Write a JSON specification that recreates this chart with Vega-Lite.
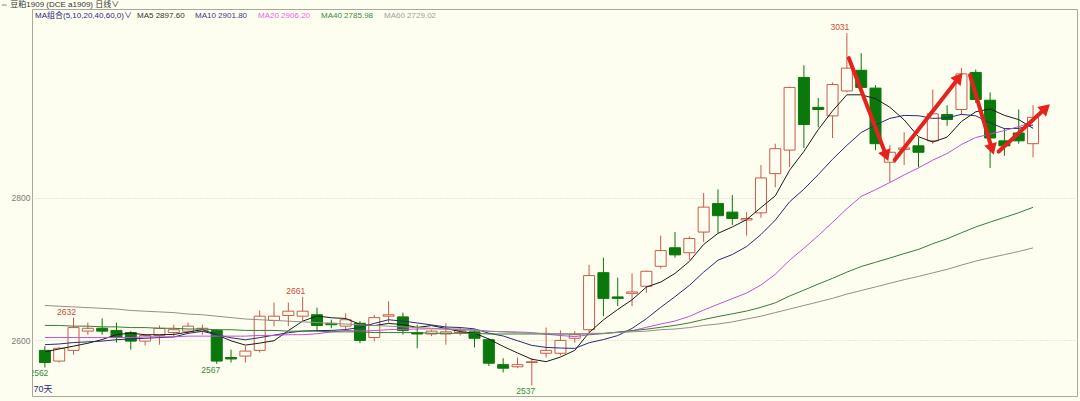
{
  "$schema": "https://vega.github.io/schema/vega-lite/v6.json",
  "width": 1045,
  "height": 387,
  "autosize": {"type": "none"},
  "padding": {"left": 32, "top": 9, "right": 3, "bottom": 5},
  "background": "#fefef0",
  "config": {
    "view": {"stroke": "#a8a8a0", "strokeWidth": 1, "fill": "#fefef0"},
    "font": "Liberation Sans"
  },
  "title": {
    "text": "⇔ 豆粕1909 (DCE a1909)    日线∨",
    "anchor": "start",
    "dx": -11,
    "dy": 4,
    "offset": 0,
    "fontSize": 8,
    "font": "Liberation Sans, Noto Sans CJK SC",
    "fontWeight": "normal",
    "color": "#333333",
    "baseline": "middle"
  },
  "datasets": {
    "candles": [
      {"i":0,"o":2586,"h":2592,"l":2562,"c":2569,"MA5":2584,"MA10":2594,"MA20":2604,"MA40":2621,"MA60":2649},
      {"i":1,"o":2571,"h":2591,"l":2569,"c":2589,"MA5":2588,"MA10":2595,"MA20":2604,"MA40":2621,"MA60":2648},
      {"i":2,"o":2586,"h":2632,"l":2580,"c":2618,"MA5":2592,"MA10":2597,"MA20":2604,"MA40":2620,"MA60":2647},
      {"i":3,"o":2613,"h":2625,"l":2608,"c":2617,"MA5":2596,"MA10":2598,"MA20":2604,"MA40":2620,"MA60":2646},
      {"i":4,"o":2617,"h":2631,"l":2608,"c":2613,"MA5":2601.2,"MA10":2599,"MA20":2604,"MA40":2619,"MA60":2645},
      {"i":5,"o":2614,"h":2625,"l":2597,"c":2604,"MA5":2608.2,"MA10":2601,"MA20":2604,"MA40":2619,"MA60":2644},
      {"i":6,"o":2611,"h":2613,"l":2587,"c":2599,"MA5":2610.2,"MA10":2602,"MA20":2604,"MA40":2618,"MA60":2642},
      {"i":7,"o":2599,"h":2609,"l":2593,"c":2607,"MA5":2608,"MA10":2603,"MA20":2605,"MA40":2618,"MA60":2641},
      {"i":8,"o":2607,"h":2621,"l":2594,"c":2617,"MA5":2608,"MA10":2604,"MA20":2605,"MA40":2617,"MA60":2640},
      {"i":9,"o":2611,"h":2622,"l":2606,"c":2615,"MA5":2608.4,"MA10":2604.8,"MA20":2605,"MA40":2617,"MA60":2639},
      {"i":10,"o":2613,"h":2625,"l":2610,"c":2620,"MA5":2611.6,"MA10":2609.9,"MA20":2606,"MA40":2616,"MA60":2637},
      {"i":11,"o":2613,"h":2622,"l":2608,"c":2617,"MA5":2615.2,"MA10":2612.7,"MA20":2606,"MA40":2616,"MA60":2636},
      {"i":12,"o":2614,"h":2616,"l":2567,"c":2571,"MA5":2608,"MA10":2608,"MA20":2606,"MA40":2615,"MA60":2634},
      {"i":13,"o":2576,"h":2587,"l":2569,"c":2574,"MA5":2599.4,"MA10":2603.7,"MA20":2606,"MA40":2615,"MA60":2632},
      {"i":14,"o":2578,"h":2592,"l":2569,"c":2585,"MA5":2593.4,"MA10":2600.9,"MA20":2606,"MA40":2614,"MA60":2630},
      {"i":15,"o":2586,"h":2642,"l":2583,"c":2634,"MA5":2596.2,"MA10":2603.9,"MA20":2607,"MA40":2614,"MA60":2629},
      {"i":16,"o":2628,"h":2653,"l":2620,"c":2634,"MA5":2599.6,"MA10":2607.4,"MA20":2607,"MA40":2614,"MA60":2628},
      {"i":17,"o":2635,"h":2653,"l":2620,"c":2641,"MA5":2613.6,"MA10":2610.8,"MA20":2608,"MA40":2613,"MA60":2627},
      {"i":18,"o":2634,"h":2661,"l":2627,"c":2641,"MA5":2627,"MA10":2613.2,"MA20":2608,"MA40":2613,"MA60":2626},
      {"i":19,"o":2636,"h":2646,"l":2613,"c":2621,"MA5":2634.2,"MA10":2613.8,"MA20":2609.3,"MA40":2613,"MA60":2625},
      {"i":20,"o":2624,"h":2629,"l":2617,"c":2622,"MA5":2631.8,"MA10":2614,"MA20":2612,"MA40":2612,"MA60":2624},
      {"i":21,"o":2620,"h":2638,"l":2613,"c":2629,"MA5":2630.8,"MA10":2615.2,"MA20":2614,"MA40":2612,"MA60":2623},
      {"i":22,"o":2624,"h":2627,"l":2596,"c":2600,"MA5":2622.6,"MA10":2618.1,"MA20":2613.1,"MA40":2612,"MA60":2622},
      {"i":23,"o":2604,"h":2636,"l":2599,"c":2632,"MA5":2620.8,"MA10":2623.9,"MA20":2613.8,"MA40":2611,"MA60":2621},
      {"i":24,"o":2634,"h":2655,"l":2625,"c":2636,"MA5":2623.8,"MA10":2629,"MA20":2615,"MA40":2611,"MA60":2620},
      {"i":25,"o":2633,"h":2639,"l":2608,"c":2614,"MA5":2622.2,"MA10":2627,"MA20":2615.5,"MA40":2611,"MA60":2619},
      {"i":26,"o":2611,"h":2622,"l":2589,"c":2609,"MA5":2618.2,"MA10":2624.5,"MA20":2616,"MA40":2611,"MA60":2618},
      {"i":27,"o":2609,"h":2615,"l":2606,"c":2613,"MA5":2620.8,"MA10":2621.7,"MA20":2616.3,"MA40":2610,"MA60":2617},
      {"i":28,"o":2609,"h":2624,"l":2594,"c":2612,"MA5":2616.8,"MA10":2618.8,"MA20":2616,"MA40":2610,"MA60":2616},
      {"i":29,"o":2611,"h":2618,"l":2607,"c":2614,"MA5":2612.4,"MA10":2618.1,"MA20":2616,"MA40":2610,"MA60":2615},
      {"i":30,"o":2612,"h":2615,"l":2590,"c":2603,"MA5":2610.2,"MA10":2616.2,"MA20":2615.1,"MA40":2610,"MA60":2614},
      {"i":31,"o":2601,"h":2603,"l":2564,"c":2568,"MA5":2602,"MA10":2610.1,"MA20":2612.7,"MA40":2609,"MA60":2613},
      {"i":32,"o":2566,"h":2575,"l":2555,"c":2561,"MA5":2591.6,"MA10":2606.2,"MA20":2612.2,"MA40":2609,"MA60":2612},
      {"i":33,"o":2563,"h":2576,"l":2561,"c":2566,"MA5":2582.4,"MA10":2599.6,"MA20":2611.8,"MA40":2609,"MA60":2611},
      {"i":34,"o":2569,"h":2575,"l":2537,"c":2570,"MA5":2573.6,"MA10":2593,"MA20":2611,"MA40":2609,"MA60":2610},
      {"i":35,"o":2582,"h":2618,"l":2576,"c":2586,"MA5":2570.2,"MA10":2590.2,"MA20":2608.6,"MA40":2609,"MA60":2610},
      {"i":36,"o":2582,"h":2614,"l":2579,"c":2600,"MA5":2576.6,"MA10":2589.3,"MA20":2606.9,"MA40":2609,"MA60":2609},
      {"i":37,"o":2603,"h":2613,"l":2597,"c":2608,"MA5":2586,"MA10":2588.8,"MA20":2605.3,"MA40":2609,"MA60":2609},
      {"i":38,"o":2615,"h":2706,"l":2611,"c":2691,"MA5":2611,"MA10":2596.7,"MA20":2607.8,"MA40":2609,"MA60":2610},
      {"i":39,"o":2695,"h":2716,"l":2634,"c":2659,"MA5":2628.8,"MA10":2601.2,"MA20":2609.7,"MA40":2609.5,"MA60":2610},
      {"i":40,"o":2661,"h":2688,"l":2648,"c":2659,"MA5":2643.4,"MA10":2606.8,"MA20":2611.5,"MA40":2611.7,"MA60":2611},
      {"i":41,"o":2666,"h":2694,"l":2648,"c":2668,"MA5":2657,"MA10":2616.8,"MA20":2613.5,"MA40":2613.7,"MA60":2612},
      {"i":42,"o":2676,"h":2698,"l":2667,"c":2697,"MA5":2674.8,"MA10":2630.4,"MA20":2618.3,"MA40":2615.7,"MA60":2613},
      {"i":43,"o":2704,"h":2747,"l":2701,"c":2726,"MA5":2681.8,"MA10":2646.4,"MA20":2623,"MA40":2618.4,"MA60":2615},
      {"i":44,"o":2730,"h":2752,"l":2716,"c":2720,"MA5":2694,"MA10":2661.4,"MA20":2627.2,"MA40":2621.1,"MA60":2616},
      {"i":45,"o":2723,"h":2746,"l":2713,"c":2743,"MA5":2710.8,"MA10":2677.1,"MA20":2633.7,"MA40":2624.6,"MA60":2618},
      {"i":46,"o":2752,"h":2807,"l":2738,"c":2787,"MA5":2734.6,"MA10":2695.8,"MA20":2642.6,"MA40":2629.3,"MA60":2621},
      {"i":47,"o":2792,"h":2812,"l":2751,"c":2775,"MA5":2750.2,"MA10":2712.5,"MA20":2650.7,"MA40":2633.5,"MA60":2623},
      {"i":48,"o":2780,"h":2804,"l":2762,"c":2771,"MA5":2759.2,"MA10":2720.5,"MA20":2658.6,"MA40":2637.3,"MA60":2626},
      {"i":49,"o":2769,"h":2780,"l":2747,"c":2771,"MA5":2769.4,"MA10":2731.7,"MA20":2666.5,"MA40":2641.2,"MA60":2630},
      {"i":50,"o":2779,"h":2846,"l":2772,"c":2828,"MA5":2786.4,"MA10":2748.6,"MA20":2677.7,"MA40":2646.4,"MA60":2634},
      {"i":51,"o":2834,"h":2876,"l":2815,"c":2869,"MA5":2802.8,"MA10":2768.7,"MA20":2692.8,"MA40":2652.7,"MA60":2639},
      {"i":52,"o":2867,"h":2956,"l":2843,"c":2955,"MA5":2838.8,"MA10":2794.5,"MA20":2712.5,"MA40":2662.3,"MA60":2644},
      {"i":53,"o":2969,"h":2986,"l":2870,"c":2903,"MA5":2865.2,"MA10":2812.2,"MA20":2729.3,"MA40":2670.5,"MA60":2649},
      {"i":54,"o":2927,"h":2940,"l":2899,"c":2924,"MA5":2895.8,"MA10":2832.6,"MA20":2747,"MA40":2679,"MA60":2654},
      {"i":55,"o":2915,"h":2962,"l":2884,"c":2959,"MA5":2922,"MA10":2854.2,"MA20":2765.7,"MA40":2687.1,"MA60":2659},
      {"i":56,"o":2950,"h":3031,"l":2948,"c":2982,"MA5":2944.6,"MA10":2873.7,"MA20":2784.8,"MA40":2695.8,"MA60":2665},
      {"i":57,"o":2979,"h":3003,"l":2951,"c":2955,"MA5":2944.6,"MA10":2891.7,"MA20":2802.1,"MA40":2703.7,"MA60":2670},
      {"i":58,"o":2954,"h":2958,"l":2867,"c":2876,"MA5":2939.2,"MA10":2902.2,"MA20":2811.4,"MA40":2709.6,"MA60":2675},
      {"i":59,"o":2850,"h":2874,"l":2822,"c":2864,"MA5":2927.2,"MA10":2911.5,"MA20":2821.6,"MA40":2715.6,"MA60":2680.2},
      {"i":60,"o":2868,"h":2892,"l":2846,"c":2870,"MA5":2909.4,"MA10":2915.7,"MA20":2832.2,"MA40":2721.8,"MA60":2685.2},
      {"i":61,"o":2873,"h":2885,"l":2843,"c":2864,"MA5":2885.8,"MA10":2915.2,"MA20":2842,"MA40":2727.7,"MA60":2689.8},
      {"i":62,"o":2880,"h":2952,"l":2876,"c":2918,"MA5":2878.4,"MA10":2911.5,"MA20":2853,"MA40":2735.7,"MA60":2694.8},
      {"i":63,"o":2917,"h":2930,"l":2901,"c":2910,"MA5":2885.2,"MA10":2912.2,"MA20":2862.2,"MA40":2742.6,"MA60":2699.7},
      {"i":64,"o":2924,"h":2982,"l":2916,"c":2974,"MA5":2907.2,"MA10":2917.2,"MA20":2874.9,"MA40":2751,"MA60":2705.7},
      {"i":65,"o":2976,"h":2980,"l":2933,"c":2938,"MA5":2920.8,"MA10":2915.1,"MA20":2884.7,"MA40":2759.2,"MA60":2711.3},
      {"i":66,"o":2937,"h":2948,"l":2842,"c":2884,"MA5":2924.8,"MA10":2905.3,"MA20":2889.5,"MA40":2766,"MA60":2716},
      {"i":67,"o":2880,"h":2898,"l":2859,"c":2873,"MA5":2915.8,"MA10":2897.1,"MA20":2894.4,"MA40":2772.5,"MA60":2720.4},
      {"i":68,"o":2891,"h":2924,"l":2876,"c":2880,"MA5":2909.8,"MA10":2897.5,"MA20":2899.9,"MA40":2779.2,"MA60":2724.8},
      {"i":69,"o":2876,"h":2930,"l":2857,"c":2913,"MA5":2897.6,"MA10":2902.4,"MA20":2907,"MA40":2786.7,"MA60":2729.8}
    ],
    "labels": [
      {"i":2,"p":2632,"t":"2632","k":"hi"},
      {"i":18,"p":2661,"t":"2661","k":"hi"},
      {"i":56,"p":3031,"t":"3031","k":"hi"},
      {"i":0,"p":2562,"t":"2562","k":"lo"},
      {"i":12,"p":2567,"t":"2567","k":"lo"},
      {"i":34,"p":2537,"t":"2537","k":"lo"}
    ],
    "arrows": [
      {"id":1,"x1":56.14,"y1":2996,"x2":58.75,"y2":2859},
      {"id":2,"x1":59.34,"y1":2853,"x2":63.83,"y2":2969},
      {"id":3,"x1":64.6,"y1":2972,"x2":66.14,"y2":2868},
      {"id":4,"x1":66.6,"y1":2865,"x2":69.89,"y2":2926}
    ]
  },
  "layer": [
    {
      "data": {"name": "candles"},
      "mark": {"type": "rule", "strokeWidth": 1},
      "encoding": {
        "x": {
          "field": "i", "type": "quantitative", "title": "70天",
          "scale": {"domain": [-0.55, 71.72], "nice": false, "zero": false},
          "axis": {
            "labels": false, "ticks": false, "domain": false, "grid": false,
            "titleX": 1, "titleY": -3, "titleAlign": "left", "titleAnchor": "start",
            "titleBaseline": "bottom", "titleFontSize": 9, "titleFontWeight": "normal",
            "titleColor": "#2a2a80", "titleFont": "Liberation Sans, Noto Sans CJK SC"
          }
        },
        "y": {
          "field": "l", "type": "quantitative", "title": null,
          "scale": {"domain": [2522, 3065], "nice": false, "zero": false},
          "axis": {
            "values": [2600, 2800], "format": "d", "grid": true, "gridColor": "#d6d2bc", "gridDash": [1, 2],
            "ticks": false, "domain": false, "labelColor": "#7a7a7a", "labelFontSize": 8.5,
            "labelPadding": 2, "labelFont": "Liberation Sans"
          }
        },
        "y2": {"field": "h"},
        "stroke": {"condition": {"test": "datum.c >= datum.o", "value": "#c85a48"}, "value": "#0a780a"}
      }
    },
    {
      "data": {"name": "candles"},
      "mark": {"type": "bar", "width": 11, "strokeWidth": 1},
      "encoding": {
        "x": {"field": "i", "type": "quantitative", "title": "70天"},
        "y": {"field": "o", "type": "quantitative", "title": null},
        "y2": {"field": "c"},
        "fill": {"condition": {"test": "datum.c >= datum.o", "value": "#fefef0"}, "value": "#0a780a"},
        "stroke": {"condition": {"test": "datum.c >= datum.o", "value": "#c85a48"}, "value": "#0a780a"}
      }
    },
    {
      "data": {"name": "candles"},
      "transform": [{"fold": ["MA5", "MA10", "MA20", "MA40", "MA60"], "as": ["ma", "v"]}],
      "mark": {"type": "line", "strokeWidth": 1, "clip": true},
      "encoding": {
        "x": {"field": "i", "type": "quantitative", "title": "70天"},
        "y": {"field": "v", "type": "quantitative", "title": null},
        "color": {
          "field": "ma", "type": "nominal",
          "scale": {
            "domain": ["MA5", "MA10", "MA20", "MA40", "MA60"],
            "range": ["#1a1a1a", "#2a2a78", "#c050d8", "#3a7a3a", "#909088"]
          },
          "legend": {
            "orient": "top-left", "direction": "horizontal", "offset": 3, "padding": 0,
            "title": "MA组合(5,10,20,40,60,0)∨", "titleOrient": "left",
            "titleColor": "#2a2a80", "titleFontSize": 8, "titleFontWeight": "normal",
            "titleFont": "Liberation Sans, Noto Sans CJK SC", "titlePadding": -3,
            "labelFont": "Liberation Sans", "labelFontSize": 8, "labelOffset": 0,
            "symbolSize": 0, "symbolOpacity": 0, "symbolStrokeWidth": 0, "columnPadding": 2,
            "labelExpr": "datum.label == 'MA5' ? 'MA5 2897.60' : datum.label == 'MA10' ? 'MA10 2901.80' : datum.label == 'MA20' ? 'MA20 2906.20' : datum.label == 'MA40' ? 'MA40 2785.98' : 'MA60 2729.02'",
            "labelColor": {"expr": "datum.value == 'MA5' ? '#333333' : datum.value == 'MA10' ? '#3a3a8a' : datum.value == 'MA20' ? '#ec64ec' : datum.value == 'MA40' ? '#3a8a3a' : '#a0a0a0'"}
          }
        }
      }
    },
    {
      "data": {"name": "labels"},
      "transform": [{"filter": "datum.k == 'hi'"}],
      "mark": {"type": "text", "baseline": "alphabetic", "dy": -3, "dx": -7, "fontSize": 8.5, "color": "#c84a40", "clip": true},
      "encoding": {
        "x": {"field": "i", "type": "quantitative", "title": "70天"},
        "y": {"field": "p", "type": "quantitative", "title": null},
        "text": {"field": "t"}
      }
    },
    {
      "data": {"name": "labels"},
      "transform": [{"filter": "datum.k == 'lo'"}],
      "mark": {"type": "text", "baseline": "top", "dy": 2, "dx": -6, "fontSize": 8.5, "color": "#3a8a3a", "clip": true},
      "encoding": {
        "x": {"field": "i", "type": "quantitative", "title": "70天"},
        "y": {"field": "p", "type": "quantitative", "title": null},
        "text": {"field": "t"}
      }
    },
    {
      "data": {"name": "arrows"},
      "mark": {"type": "rule", "strokeWidth": 4, "color": "#e5231d", "strokeCap": "round"},
      "encoding": {
        "x": {"field": "x1", "type": "quantitative", "title": "70天"},
        "y": {"field": "y1", "type": "quantitative", "title": null},
        "x2": {"field": "x2"},
        "y2": {"field": "y2"}
      }
    },
    {
      "data": {"name": "arrows"},
      "mark": {"type": "point", "shape": "triangle-up", "filled": true, "size": 170, "color": "#e5231d", "opacity": 1},
      "encoding": {
        "x": {"field": "x2", "type": "quantitative", "title": "70天"},
        "y": {"field": "y2", "type": "quantitative", "title": null},
        "angle": {
          "condition": [
            {"test": "datum.id == 1", "value": 158.8},
            {"test": "datum.id == 2", "value": 38.2},
            {"test": "datum.id == 3", "value": 163.3}
          ],
          "value": 47.5
        }
      }
    }
  ]
}
